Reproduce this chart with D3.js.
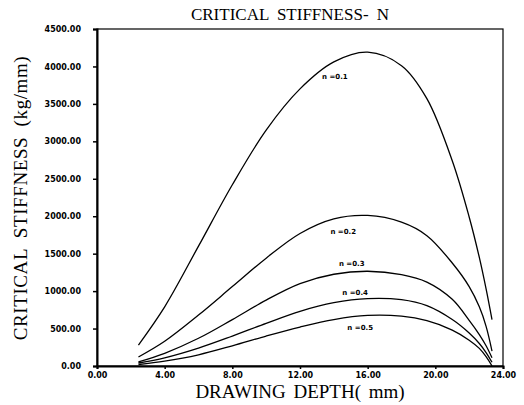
<!DOCTYPE html>
<html>
<head>
<meta charset="utf-8">
<script src="https://cdn.jsdelivr.net/npm/d3@7"></script>
<style>
  body { margin: 0; background: #fff; }
  svg { display: block; }
  .tick text { font-family: "DejaVu Sans", sans-serif; font-weight: bold; font-size: 8px; }
</style>
</head>
<body>
<div id="chart"></div>
<script>
// drawing depth (mm) sampled along each curve
const depth = [2.45, 4, 6, 8, 10, 12, 14, 16, 18, 19.5, 21, 22, 22.6, 23, 23.35]

// critical stiffness (kg/mm), one array per hardening exponent n
const n01 = [280, 790, 1600, 2420, 3150, 3700, 4060, 4190, 4010, 3570, 2740, 1990, 1450, 1030, 620]
const n02 = [120, 330, 680, 1060, 1440, 1770, 1965, 2010, 1920, 1740, 1375, 1060, 790, 530, 200]
const n03 = [55, 170, 370, 620, 880, 1100, 1225, 1265, 1220, 1120, 890, 610, 420, 270, 110]
const n04 = [40, 110, 240, 400, 570, 730, 845, 900, 885, 805, 620, 440, 300, 180, 50]
const n05 = [20, 65, 150, 270, 400, 520, 620, 675, 665, 605, 480, 345, 235, 125, 0]

const seriesNames = ["n =0.1", "n =0.2", "n =0.3", "n =0.4", "n =0.5"]
// where each curve label sits (depth, stiffness)
const labelDepth = [13.3, 13.8, 14.3, 14.5, 14.8]
const labelValue = [3830, 1760, 1335, 950, 480]

const xTicks = [0, 4, 8, 12, 16, 20, 24]
const yTicks = [0, 500, 1000, 1500, 2000, 2500, 3000, 3500, 4000, 4500]

const width = 524
const height = 405
const margin = {top: 29, right: 21, bottom: 39, left: 97}

const svg = d3.select("#chart").append("svg")
  .attr("width", width)
  .attr("height", height)

const x = d3.scaleLinear().domain([0, 24]).range([margin.left, width - margin.right])
const y = d3.scaleLinear().domain([0, 4500]).range([height - margin.bottom, margin.top])

// frame
svg.append("rect")
  .attr("x", x(0)).attr("y", y(4500))
  .attr("width", x(24) - x(0)).attr("height", y(0) - y(4500))
  .attr("fill", "none").attr("stroke", "#000").attr("stroke-width", 1.2)

const xAxis = svg.append("g")
  .attr("transform", `translate(0,${y(0)})`)
  .call(d3.axisBottom(x).tickValues(xTicks).tickFormat(d3.format(".2f")).tickSize(3).tickPadding(3))
const yAxis = svg.append("g")
  .attr("transform", `translate(${x(0)},0)`)
  .call(d3.axisLeft(y).tickValues(yTicks).tickFormat(d3.format(".2f")).tickSize(4).tickPadding(12))

svg.selectAll(".domain").attr("stroke-width", 2)
svg.selectAll(".tick line").attr("stroke-width", 1.5)

const line = d3.line()
  .x((d, i) => x(depth[i]))
  .y(d => y(d))
  .curve(d3.curveCatmullRom.alpha(0.5))

const allSeries = [n01, n02, n03, n04, n05]

svg.append("g").selectAll("path")
  .data(allSeries)
  .join("path")
  .attr("d", line)
  .attr("fill", "none")
  .attr("stroke", "#000")
  .attr("stroke-width", 1.3)

svg.append("g").selectAll("text")
  .data(seriesNames)
  .join("text")
  .attr("x", (d, i) => x(labelDepth[i]))
  .attr("y", (d, i) => y(labelValue[i]))
  .attr("font-family", "DejaVu Sans, sans-serif")
  .attr("font-weight", "bold")
  .attr("font-size", 7)
  .text(d => d)

// titles
svg.append("text")
  .attr("x", 290).attr("y", 20)
  .attr("text-anchor", "middle")
  .attr("font-family", "Liberation Serif, serif")
  .attr("font-size", 17)
  .attr("word-spacing", 4)
  .text("CRITICAL STIFFNESS- N")

svg.append("text")
  .attr("x", 300).attr("y", 398)
  .attr("text-anchor", "middle")
  .attr("font-family", "Liberation Serif, serif")
  .attr("font-size", 19)
  .attr("word-spacing", 3)
  .text("DRAWING DEPTH( mm)")

svg.append("text")
  .attr("transform", "translate(27,198) rotate(-90)")
  .attr("text-anchor", "middle")
  .attr("font-family", "Liberation Serif, serif")
  .attr("font-size", 19)
  .attr("letter-spacing", 0.6)
  .attr("word-spacing", 5)
  .text("CRITICAL STIFFNESS (kg/mm)")
</script>
</body>
</html>
